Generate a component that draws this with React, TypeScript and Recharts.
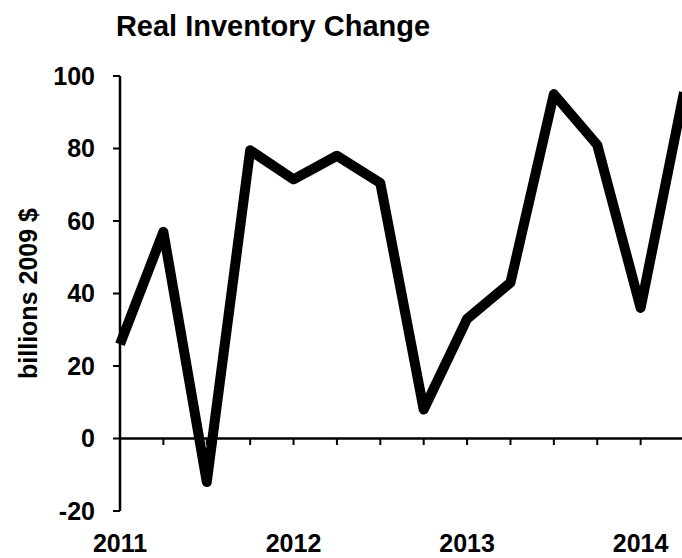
import { LineChart, Line, XAxis, YAxis, ReferenceLine } from "recharts";

const quarters = [
  "2011Q1", "2011Q2", "2011Q3", "2011Q4",
  "2012Q1", "2012Q2", "2012Q3", "2012Q4",
  "2013Q1", "2013Q2", "2013Q3", "2013Q4",
  "2014Q1", "2014Q2",
];
const inventoryChange = [26, 57, -12, 79.5, 71.5, 78, 70.5, 8, 33, 43, 95, 81, 36, 95.5];
const yearTicks = [0, 4, 8, 12];
const yearLabels = ["2011", "2012", "2013", "2014"];
const valueTicks = [-20, 0, 20, 40, 60, 80, 100];

const data = quarters.map((q, i) => ({ q: i, label: q, value: inventoryChange[i] }));

const font = "'Liberation Sans', Arial, sans-serif";

const App: React.FC = () => {
  const wrap: React.CSSProperties = {
    position: "absolute",
    left: 0,
    top: 0,
    width: 682,
    height: 558,
    overflow: "hidden",
    background: "#fff",
    fontFamily: font,
  };

  return (
    <div style={wrap}>
      <div
        style={{
          position: "absolute",
          left: 0,
          top: 10,
          width: 546,
          textAlign: "center",
          fontSize: 29,
          lineHeight: "32px",
          fontWeight: "bold",
          color: "#000",
        }}
      >
        Real Inventory Change
      </div>
      <LineChart
        width={700}
        height={558}
        data={data}
        margin={{ top: 76, right: 16, left: 0, bottom: 0 }}
        style={{ position: "absolute", left: 0, top: 0 }}
      >
        <XAxis
          dataKey="q"
          type="number"
          domain={[0, quarters.length - 1]}
          ticks={yearTicks}
          tickFormatter={(v: number) => yearLabels[yearTicks.indexOf(v)] ?? ""}
          axisLine={false}
          tickLine={false}
          tickSize={0}
          tickMargin={23}
          height={47}
          tick={{ fill: "#000", fontSize: 25, fontWeight: "bold", fontFamily: font }}
        />
        <YAxis
          domain={[-20, 100]}
          ticks={valueTicks}
          width={120}
          axisLine={{ stroke: "#000", strokeWidth: 2.5 }}
          tickLine={{ stroke: "#000", strokeWidth: 2 }}
          tickSize={7}
          tickMargin={18}
          tick={{ fill: "#000", fontSize: 25, fontWeight: "bold", fontFamily: font }}
          label={{
            value: "billions 2009 $",
            angle: -90,
            position: "center",
            dx: -32,
            style: { fill: "#000", fontSize: 25, fontWeight: "bold", fontFamily: font },
          }}
        />
        <ReferenceLine y={0} stroke="#000" strokeWidth={2.5} />
        {quarters.slice(1).map((q, i) => (
          <ReferenceLine
            key={q}
            segment={[
              { x: i + 1, y: 0 },
              { x: i + 1, y: -1.8 },
            ]}
            stroke="#000"
            strokeWidth={2}
          />
        ))}
        <Line
          type="linear"
          dataKey="value"
          stroke="#000"
          strokeWidth={10}
          strokeLinejoin="round"
          dot={false}
          activeDot={false}
          isAnimationActive={false}
        />
      </LineChart>
    </div>
  );
};

export default App;
